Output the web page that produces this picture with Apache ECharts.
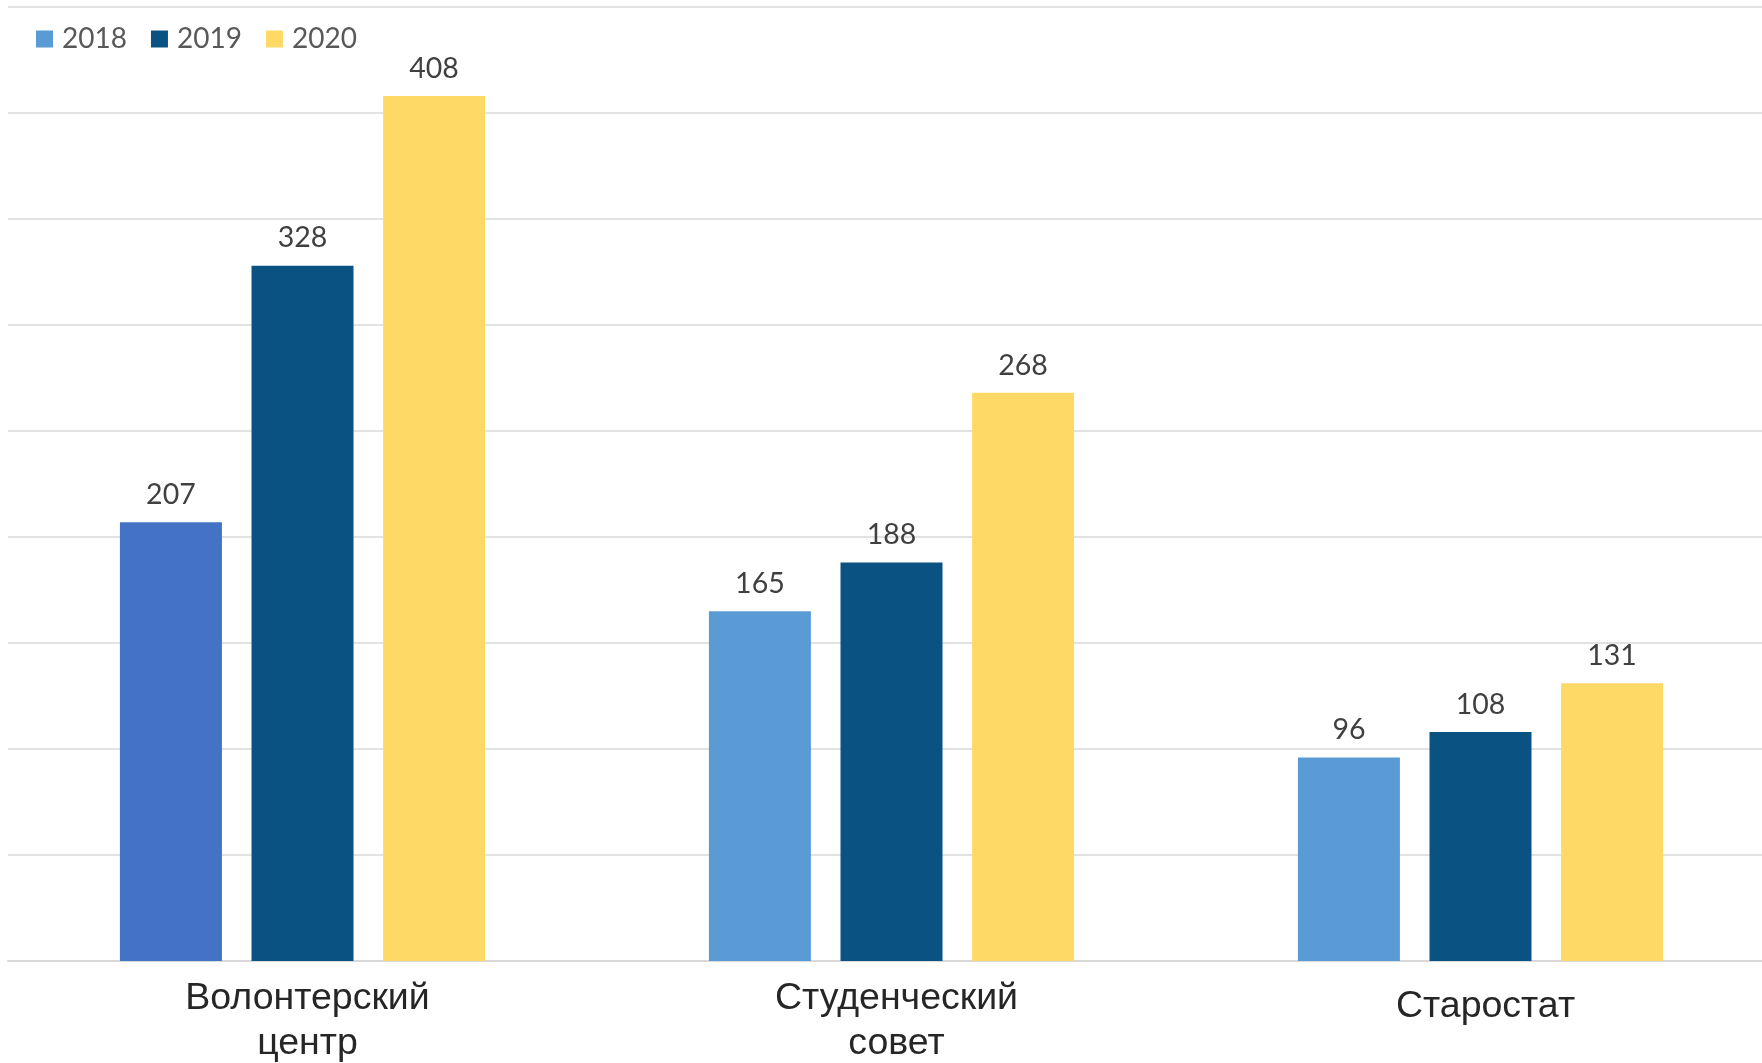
<!DOCTYPE html>
<html><head><meta charset="utf-8">
<script src="https://cdn.jsdelivr.net/npm/echarts@6/dist/echarts.min.js"></script>
<style>html,body{margin:0;padding:0;background:#fff}#c{width:1762px;height:1063px}</style>
</head><body><div id="c"></div>
<script>
const categories = ['Волонтерский\nцентр', 'Студенческий\nсовет', 'Старостат'];
const seriesNames = ['2018', '2019', '2020'];
const values2018 = [207, 165, 96];
const values2019 = [328, 188, 108];
const values2020 = [408, 268, 131];
const colors = ['#5B9BD5', '#0A5281', '#FFD966'];
const firstBar2018Color = '#4472C4';

const chart = echarts.init(document.getElementById('c'));
const allValues = [values2018, values2019, values2020];
const labelStyle = {show: true, position: 'top', distance: 13, fontFamily: 'Lato', fontSize: 28.5, color: '#404040'};
chart.setOption({
  animation: false,
  color: colors,
  legend: {
    left: 31, top: 20, itemWidth: 17, itemHeight: 17, itemGap: 24,
    icon: 'rect',
    textStyle: {fontFamily: 'Lato', fontSize: 28, color: '#595959', padding: [0, 0, 0, 4]},
    data: seriesNames
  },
  grid: {left: 8, top: 7, width: 1767, height: 954, containLabel: false, outerBoundsMode: 'none'},
  xAxis: {
    type: 'category', data: categories,
    axisLine: {lineStyle: {color: '#D9D9D9', width: 2}},
    axisTick: {show: false},
    axisLabel: {
      fontFamily: 'Liberation Sans', fontSize: 37.5, color: '#262626', lineHeight: 45, margin: 15,
      padding: [0, 0, 0, 10],
      formatter: v => v.indexOf('\n') >= 0 ? v : '{s|' + v + '}',
      rich: {s: {fontFamily: 'Liberation Sans', fontSize: 37.5, color: '#262626', lineHeight: 45, padding: [16, 0, 0, 0]}}
    }
  },
  yAxis: {
    type: 'value', min: 0, max: 450, interval: 50,
    axisLabel: {show: false}, axisLine: {show: false}, axisTick: {show: false},
    splitLine: {lineStyle: {color: '#D9D9D9', width: 1.5}}
  },
  series: seriesNames.map((name, i) => ({
    name: name, type: 'bar', barWidth: 102, barGap: '29%',
    label: labelStyle,
    data: allValues[i].map((v, j) => (i === 0 && j === 0) ? {value: v, itemStyle: {color: firstBar2018Color}} : v)
  }))
});
</script></body></html>
